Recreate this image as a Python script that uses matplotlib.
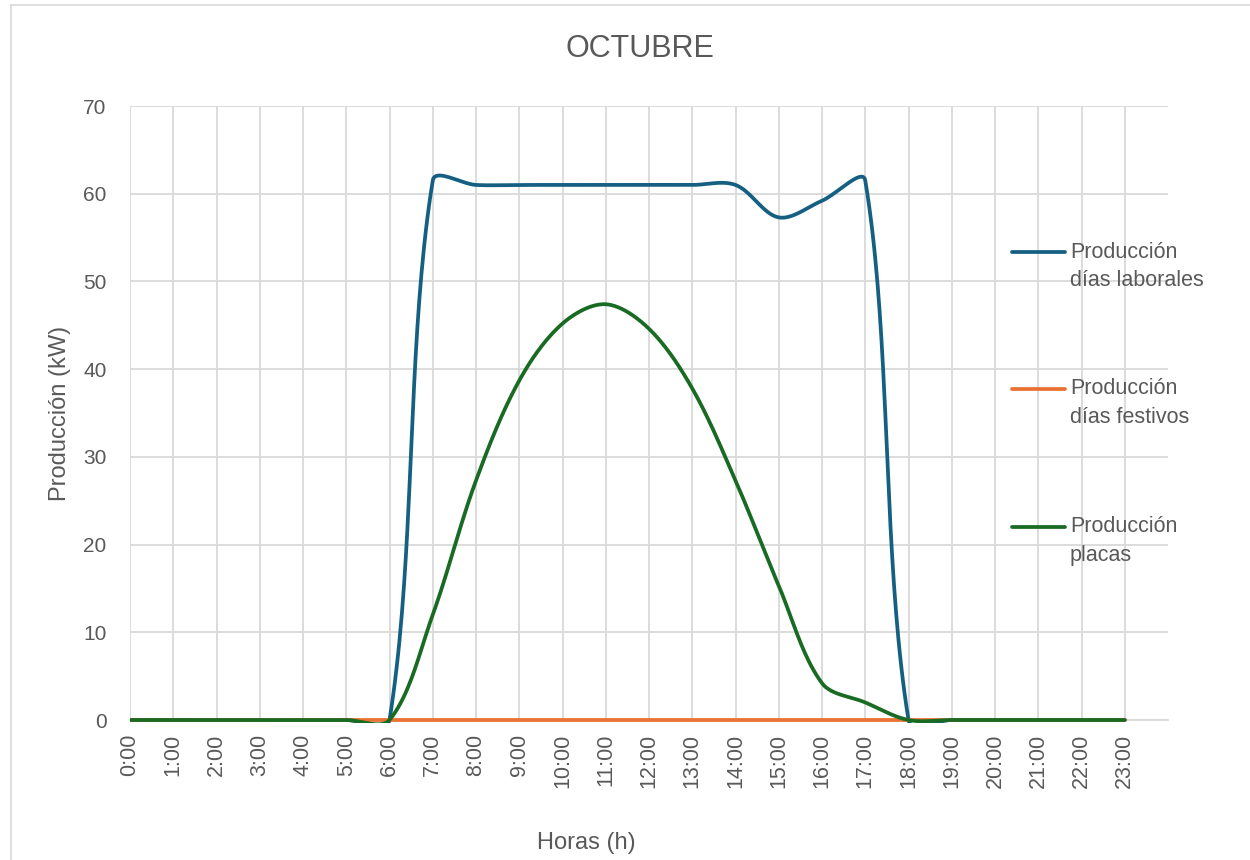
import numpy as np
import matplotlib
matplotlib.use("Agg")
import matplotlib.pyplot as plt
from matplotlib.lines import Line2D
from matplotlib.patches import Rectangle

# ---- data -------------------------------------------------------------
horas = [f"{h}:00" for h in range(24)]
prod_laborales = [0, 0, 0, 0, 0, 0, 0, 61.5, 61, 61, 61, 61, 61, 61,
                  61, 57.3, 59.2, 61.5, 0, 0, 0, 0, 0, 0]
prod_festivos = [0, 0, 0, 0, 0, 0, 0, 0, 0, 0, 0, 0, 0, 0,
                 0, 0, 0, 0, 0, 0, 0, 0, 0, 0]
prod_placas = [0, 0, 0, 0, 0, 0, 0, 12.0, 27.3, 38.7, 45.2, 47.4, 44.6, 37.8,
               27.3, 15.3, 4.2, 2.0, 0, 0, 0, 0, 0, 0]

series_labels = ["Producción\ndías laborales", "Producción\ndías festivos",
                 "Producción\nplacas"]
series_colors = ["#156082", "#E97132", "#196B24"]

TEXT = "#595959"
GRID = "#D9D9D9"
W, H = 1250, 860


def fx(px):
    return px / W


def fy(py):
    return 1 - py / H


def smooth_curve(ax, xs, ys, n=40):
    """Bezier smoothing in screen space, control points scaled by segment length."""
    pts = ax.transData.transform(np.column_stack([xs, ys]))
    N = len(pts)
    t = np.linspace(0, 1, n)[:, None]
    out = []
    for i in range(N - 1):
        p0 = pts[max(i - 1, 0)]
        p1 = pts[i]
        p2 = pts[i + 1]
        p3 = pts[min(i + 2, N - 1)]
        d01 = np.hypot(*(p1 - p0))
        d12 = np.hypot(*(p2 - p1))
        d23 = np.hypot(*(p3 - p2))
        k1 = d12 / (d01 + d12) if d01 + d12 > 0 else 0
        k2 = d12 / (d12 + d23) if d12 + d23 > 0 else 0
        c1 = p1 + (p2 - p0) * k1 / 3
        c2 = p2 - (p3 - p1) * k2 / 3
        seg = ((1 - t) ** 3) * p1 + 3 * ((1 - t) ** 2) * t * c1 \
            + 3 * (1 - t) * (t ** 2) * c2 + (t ** 3) * p2
        out.append(seg if i == 0 else seg[1:])
    data = ax.transData.inverted().transform(np.vstack(out))
    return data[:, 0], data[:, 1]


fig = plt.figure(figsize=(W / 100, H / 100), dpi=100)
fig.patch.set_facecolor("white")

ax = fig.add_axes([fx(130), fy(720), fx(1168) - fx(130), fy(106) - fy(720)])
ax.set_xlim(0, 24)
ax.set_ylim(0, 70)

x = np.arange(len(horas))
ax.set_xticks(x)
ax.set_xticklabels(horas, rotation=90, fontsize=15.5, color=TEXT,
                   family="Liberation Sans")
ax.set_yticks(np.arange(0, 71, 10))
ax.set_yticklabels([str(v) for v in range(0, 71, 10)], fontsize=15,
                   color=TEXT, family="Liberation Sans")
ax.tick_params(axis="both", length=0)
ax.tick_params(axis="x", pad=10)
ax.tick_params(axis="y", pad=17)

ax.grid(True, color=GRID, linewidth=1.3)
ax.set_axisbelow(True)
for side in ["top", "right", "left"]:
    ax.spines[side].set_visible(False)
ax.spines["bottom"].set_color(GRID)
ax.spines["bottom"].set_linewidth(1.3)

clip = Rectangle((0, -0.3), 24, 71, transform=ax.transData)
for vals, color in zip([prod_laborales, prod_festivos, prod_placas], series_colors):
    sx, sy = smooth_curve(ax, x, vals)
    line, = ax.plot(sx, sy, color=color, linewidth=2.7, solid_capstyle="round",
                    zorder=3)
    line.set_clip_path(clip)

# titles
fig.text(fx(640), fy(49), "OCTUBRE", ha="center", va="center", fontsize=22,
         color=TEXT, family="Liberation Sans")
fig.text(fx(60), fy(413), "Producción (kW)", rotation=90, ha="center",
         va="center", fontsize=17, color=TEXT, family="Liberation Sans")
fig.text(fx(586), fy(843), "Horas (h)", ha="center", va="center",
         fontsize=17, color=TEXT, family="Liberation Sans")

# legend
legend_y = [252, 389, 527]
for yy, lab, color in zip(legend_y, series_labels, series_colors):
    fig.add_artist(Line2D([fx(1012), fx(1065)], [fy(yy), fy(yy)], color=color,
                          linewidth=2.7, solid_capstyle="round"))
    first, second = lab.split("\n")
    fig.text(fx(1070), fy(yy), first, ha="left", va="center", fontsize=15.5,
             color=TEXT, family="Liberation Sans")
    fig.text(fx(1070), fy(yy + 29), second, ha="left", va="center",
             fontsize=15.5, color=TEXT, family="Liberation Sans")

# chart border
fig.add_artist(Line2D([fx(11), fx(11)], [0, fy(5)], color=GRID, linewidth=1.2))
fig.add_artist(Line2D([fx(11), 1], [fy(5), fy(5)], color=GRID, linewidth=1.2))

fig.savefig("out.png", dpi=100, facecolor="white")
